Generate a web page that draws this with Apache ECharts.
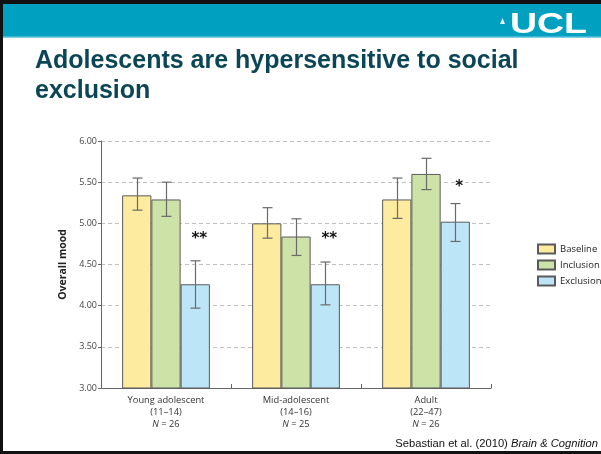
<!DOCTYPE html>
<html>
<head>
<meta charset="utf-8">
<script src="https://cdn.jsdelivr.net/npm/echarts@6/dist/echarts.min.js"></script>
<style>
html,body{margin:0;padding:0;background:#fff;}
#chart{width:601px;height:454px;}
</style>
</head>
<body>
<div id="chart"></div>
<script>
// ---- data ----
const categories = ['Young adolescent', 'Mid-adolescent', 'Adult'];
const ageRanges = ['(11–14)', '(14–16)', '(22–47)'];
const sampleSizes = [26, 25, 26];
const seriesNames = ['Baseline', 'Inclusion', 'Exclusion'];
const baseline = [5.34, 5.00, 5.29];
const inclusion = [5.29, 4.84, 5.60];
const exclusion = [4.26, 4.26, 5.02];
const baselineLow = [5.16, 4.82, 5.06];
const baselineHigh = [5.55, 5.19, 5.55];
const inclusionLow = [5.085, 4.61, 5.41];
const inclusionHigh = [5.50, 5.055, 5.79];
const exclusionLow = [3.97, 4.01, 4.78];
const exclusionHigh = [4.545, 4.53, 5.24];
const stars = ['**', '**', '*'];
const starValues = [4.81, 4.81, 5.44];
const yMin = 3, yMax = 6, yInterval = 0.5;

const colors = ['#FDEBA0', '#CDE2A6', '#BDE5F8'];
const barFrac = 0.225;

function errRender(offsetIdx) {
  return function (params, api) {
    const x = api.value(0), lo = api.value(1), hi = api.value(2);
    const top = api.coord([x, hi]);
    const bot = api.coord([x, lo]);
    const bw = api.size([1, 0])[0] * barFrac;
    const cx = Math.round(top[0] + offsetIdx * bw) + 0.5;
    const cap = 5;
    const st = { stroke: '#6a6a6a', lineWidth: 1.2 };
    return {
      type: 'group',
      children: [
        { type: 'line', shape: { x1: cx, y1: top[1], x2: cx, y2: bot[1] }, style: st },
        { type: 'line', shape: { x1: cx - cap, y1: top[1], x2: cx + cap, y2: top[1] }, style: st },
        { type: 'line', shape: { x1: cx - cap, y1: bot[1], x2: cx + cap, y2: bot[1] }, style: st }
      ]
    };
  };
}

function starRender(params, api) {
  const x = api.value(0), v = api.value(1);
  const p = api.coord([x, v]);
  const bw = api.size([1, 0])[0] * barFrac;
  return {
    type: 'text',
    style: {
      text: stars[params.dataIndex],
      x: p[0] + bw + 4,
      y: p[1],
      align: 'center',
      verticalAlign: 'middle',
      font: 'bold 15px "DejaVu Sans"',
      fill: '#111'
    }
  };
}

const valueSets = [baseline, inclusion, exclusion];
const lowSets = [baselineLow, inclusionLow, exclusionLow];
const highSets = [baselineHigh, inclusionHigh, exclusionHigh];

const series = [];
seriesNames.forEach((name, i) => {
  series.push({
    name: name,
    type: 'bar',
    data: valueSets[i],
    barWidth: (barFrac * 100) + '%',
    barGap: '0%',
    itemStyle: { color: colors[i], borderColor: '#5a5a5a', borderWidth: 1 },
    emphasis: { disabled: true },
    animation: false
  });
});
seriesNames.forEach((name, i) => {
  series.push({
    type: 'custom',
    renderItem: errRender(i - 1),
    data: categories.map((c, k) => [k, lowSets[i][k], highSets[i][k]]),
    z: 5,
    animation: false,
    silent: true
  });
});
series.push({
  type: 'custom',
  renderItem: starRender,
  data: categories.map((c, k) => [k, starValues[k]]),
  z: 6,
  animation: false,
  silent: true
});

const chart = echarts.init(document.getElementById('chart'), null, { renderer: 'canvas' });
chart.setOption({
  animation: false,
  backgroundColor: '#fff',
  grid: { left: 101, right: 110, top: 141, bottom: 66, containLabel: false },
  legend: {
    data: seriesNames,
    orient: 'vertical',
    left: 537,
    top: 243.5,
    padding: 0,
    itemWidth: 17,
    itemHeight: 9,
    itemGap: 5,
    icon: 'rect',
    textStyle: { fontFamily: 'Open Sans', fontSize: 9.5, lineHeight: 9, color: '#222' },
    selectedMode: false
  },
  xAxis: {
    type: 'category',
    data: categories,
    axisLine: { lineStyle: { color: '#666', width: 1 } },
    axisTick: { show: true, inside: true, length: 4, lineStyle: { color: '#666' } },
    axisLabel: {
      margin: 6,
      interval: 0,
      color: '#333',
      fontFamily: 'Open Sans',
      fontSize: 9.3,
      lineHeight: 12,
      formatter: function (v, idx) {
        return v + '\n' + ageRanges[idx] + '\n{i|N} = ' + sampleSizes[idx];
      },
      rich: {
        i: { fontStyle: 'italic', fontFamily: 'Open Sans', fontSize: 9.3, color: '#333', lineHeight: 12 }
      }
    }
  },
  yAxis: {
    type: 'value',
    min: yMin,
    max: yMax,
    interval: yInterval,
    name: 'Overall mood',
    nameLocation: 'middle',
    nameGap: 23,
    nameTextStyle: { fontFamily: 'Open Sans', fontWeight: 'bold', fontSize: 10.5, color: '#222' },
    axisLine: { show: true, lineStyle: { color: '#666', width: 1 } },
    axisTick: { show: true, length: 3, lineStyle: { color: '#666' } },
    axisLabel: {
      color: '#444',
      fontFamily: 'Open Sans',
      fontSize: 9,
      margin: 4,
      formatter: v => v.toFixed(2)
    },
    splitLine: { show: true, lineStyle: { color: '#c0c0c0', type: [4, 3], width: 1 } }
  },
  graphic: [
    { type: 'rect', shape: { x: 0, y: 0, width: 601, height: 37 }, style: { fill: '#00A0C1' }, z: 100 },
    { type: 'text', z: 101, x: 587, y: 10, scaleX: 1.25, style: { text: 'UCL', x: 0, y: 0, align: 'right', verticalAlign: 'top', font: 'bold 30px "Liberation Sans"', fill: '#fff' } },
    { type: 'rect', shape: { x: 0, y: 37, width: 601, height: 20 }, style: { fill: '#fff' }, z: 101.5 },
    { type: 'rect', shape: { x: 0, y: 36.5, width: 601, height: 1.5 }, style: { fill: '#7fd0e2' }, z: 102 },
    { type: 'rect', shape: { x: 0, y: 0, width: 601, height: 4 }, style: { fill: '#111' }, z: 102 },
    { type: 'rect', shape: { x: 0, y: 0, width: 3, height: 454 }, style: { fill: '#111' }, z: 102 },
    { type: 'rect', shape: { x: 0, y: 451, width: 601, height: 3 }, style: { fill: '#111' }, z: 102 },
    { type: 'polygon', z: 102, shape: { points: [[500, 24], [502.5, 18], [505, 24]] }, style: { fill: '#e8f6fa' } },
    { type: 'text', z: 102, style: { text: 'Adolescents are hypersensitive to social', x: 35, y: 61, align: 'left', verticalAlign: 'middle', font: 'bold 25px "Liberation Sans"', fill: '#0B4657' } },
    { type: 'text', z: 102, style: { text: 'exclusion', x: 35, y: 91, align: 'left', verticalAlign: 'middle', font: 'bold 25px "Liberation Sans"', fill: '#0B4657' } },
    { type: 'text', z: 102, style: {
        text: 'Sebastian et al. (2010) {i|Brain & Cognition}', x: 598, y: 444, align: 'right', verticalAlign: 'middle',
        font: '11.2px "Liberation Sans"', fill: '#111',
        rich: { i: { font: 'italic 11.2px "Liberation Sans"', fill: '#111' } }
      } }
  ],
  series: series
});
</script>
</body>
</html>
